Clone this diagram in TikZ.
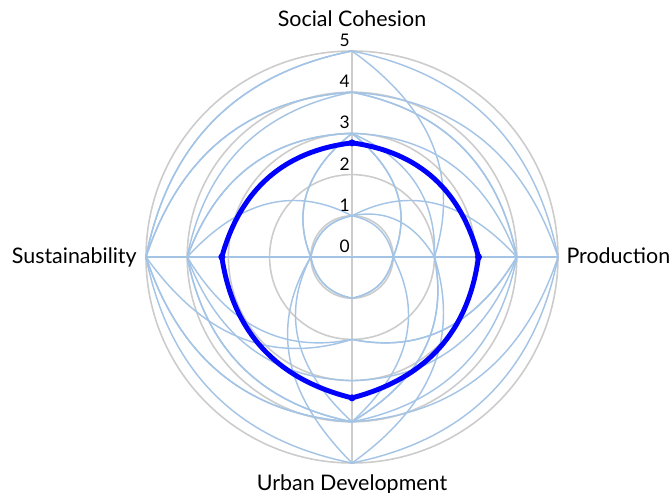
\documentclass[tikz,border=0pt]{standalone}
\usepackage{fontspec}
\setmainfont{Lato}
\usetikzlibrary{calc}

\definecolor{gridgray}{HTML}{CCCCCC}
\definecolor{answerblue}{HTML}{A4C4E6}
\definecolor{meanblue}{HTML}{0000FF}

\tikzset{
  ring/.style={draw=gridgray, line width=1.1pt},
  answer/.style={draw=answerblue, line width=1pt},
  meanline/.style={draw=meanblue, line width=3.4pt, line join=round},
  axislabel/.style={font=\fontsize{14.8}{17}\selectfont, inner sep=0pt},
  ticklabel/.style={font=\fontsize{12}{14}\selectfont, inner sep=0pt, anchor=south east},
}

% how far a side swells out between two spokes
\newcommand{\swell}{1.18}
% closed curve through top, right, bottom, left
\newcommand{\radarloop}[5][answer]{%
  \pgfmathsetmacro\mA{\swell*(#2+#3)/2}%
  \pgfmathsetmacro\mB{\swell*(#3+#4)/2}%
  \pgfmathsetmacro\mC{\swell*(#4+#5)/2}%
  \pgfmathsetmacro\mD{\swell*(#5+#2)/2}%
  \draw[#1] (90:#2)
    .. controls ($(90:#2)!2/3!(45:\mA)$) and ($(0:#3)!2/3!(45:\mA)$) .. (0:#3)
    .. controls ($(0:#3)!2/3!(-45:\mB)$) and ($(-90:#4)!2/3!(-45:\mB)$) .. (-90:#4)
    .. controls ($(-90:#4)!2/3!(-135:\mC)$) and ($(180:#5)!2/3!(-135:\mC)$) .. (180:#5)
    .. controls ($(180:#5)!2/3!(135:\mD)$) and ($(90:#2)!2/3!(135:\mD)$) .. cycle;}

\begin{document}
\begin{tikzpicture}
  \useasboundingbox (-8.544,-5.728) rectangle (7.767,6.238);

  % grid
  \foreach \r in {1,...,5}
    \draw[ring] (0,0) circle (\r);
  \draw[ring] (0,-5) -- (0,5);

  % single answers: top/right/bottom/left
  \foreach \t/\p/\u/\s in {5/5/5/5, 4/4/4/4, 4/5/4/5, 3/1/1/1, 1/1/1/1, 1/4/2/4,
                           3/4/3/4, 3/2/5/1, 5/2/4/5, 1/2/4/1, 4/4/2/5, 3/1/4/4}
    \radarloop{\t}{\p}{\u}{\s};
  \draw[answer] (180:5) -- (0:5);

  % mean
  \radarloop[meanline]{2.77}{3.07}{3.42}{3.16};
  \foreach \a/\r in {90/2.77, 0/3.07, -90/3.42, 180/3.16}
    \fill[meanblue] (\a:\r) circle (0.085);

  % scale
  \foreach \v in {0,...,5}
    \node[ticklabel] (tick\v) at (-0.05,\v+0.1) {\v};

  \node[axislabel, anchor=base] (social) at (0,5.6) {Social Cohesion};
  \node[axislabel, anchor=base west] (production) at (5.2,-0.16) {Production};
  \node[axislabel, anchor=base] (urban) at (0,-5.66) {Urban Development};
  \node[axislabel, anchor=base east] (sustain) at (-5.22,-0.16) {Sustainability};
\end{tikzpicture}
\end{document}
